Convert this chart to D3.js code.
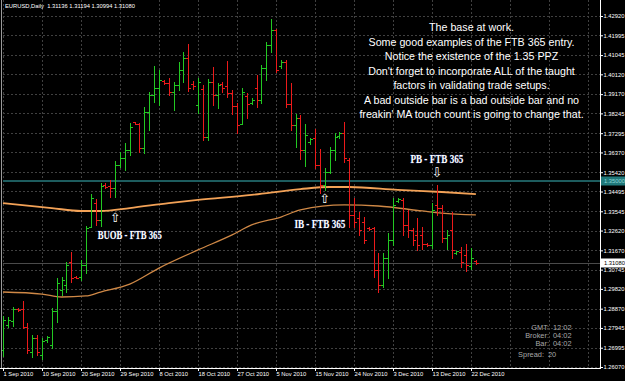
<!DOCTYPE html>
<html>
<head>
<meta charset="utf-8">
<script src="https://cdn.jsdelivr.net/npm/d3@7"></script>
<style>
body { margin: 0; background: #000; overflow: hidden; }
svg { display: block; }
</style>
</head>
<body>
<div id="chart"></div>
<script>
// daily bars, broker has sunday bars
var dates = [
 "2010-09-01","2010-09-02","2010-09-03","2010-09-05","2010-09-06","2010-09-07","2010-09-08","2010-09-09","2010-09-10","2010-09-12",
 "2010-09-13","2010-09-14","2010-09-15","2010-09-16","2010-09-17","2010-09-19","2010-09-20","2010-09-21","2010-09-22","2010-09-23",
 "2010-09-24","2010-09-26","2010-09-27","2010-09-28","2010-09-29","2010-09-30","2010-10-01","2010-10-03","2010-10-04","2010-10-05",
 "2010-10-06","2010-10-07","2010-10-08","2010-10-10","2010-10-11","2010-10-12","2010-10-13","2010-10-14","2010-10-15","2010-10-17",
 "2010-10-18","2010-10-19","2010-10-20","2010-10-21","2010-10-22","2010-10-24","2010-10-25","2010-10-26","2010-10-27","2010-10-28",
 "2010-10-29","2010-10-31","2010-11-01","2010-11-02","2010-11-03","2010-11-04","2010-11-05","2010-11-07","2010-11-08","2010-11-09",
 "2010-11-10","2010-11-11","2010-11-12","2010-11-14","2010-11-15","2010-11-16","2010-11-17","2010-11-18","2010-11-19","2010-11-21",
 "2010-11-22","2010-11-23","2010-11-24","2010-11-25","2010-11-26","2010-11-28","2010-11-29","2010-11-30","2010-12-01","2010-12-02",
 "2010-12-03","2010-12-05","2010-12-06","2010-12-07","2010-12-08","2010-12-09","2010-12-10","2010-12-12","2010-12-13","2010-12-14",
 "2010-12-15","2010-12-16","2010-12-17","2010-12-19","2010-12-20","2010-12-21","2010-12-22","2010-12-23"
];

var opens = [
 1.2689,1.2809,1.2828,1.2885,1.2885,1.2799,1.2679,1.2746,1.2665,1.2737,
 1.2713,1.2876,1.2977,1.3001,1.3111,1.3039,1.3039,1.3097,1.3279,1.3394,
 1.3313,1.3481,1.3476,1.3466,1.3577,1.3610,1.3649,1.3783,1.3773,1.3658,
 1.3831,1.3913,1.3946,1.3980,1.3970,1.3927,1.3961,1.4033,1.4090,1.3965,
 1.3865,1.3941,1.3711,1.3975,1.3913,1.3965,1.3956,1.3922,1.3860,1.3773,
 1.3908,1.3874,1.3946,1.3889,1.4042,1.4153,1.4225,1.4052,1.4071,1.3869,
 1.3769,1.3802,1.3649,1.3687,1.3706,1.3577,1.3481,1.3543,1.3649,1.3716,
 1.3730,1.3601,1.3337,1.3322,1.3303,1.3274,1.3274,1.3073,1.3001,1.3130,
 1.3217,1.3404,1.3409,1.3289,1.3265,1.3241,1.3241,1.3197,1.3193,1.3385,
 1.3370,1.3226,1.3265,1.3154,1.3159,1.3145,1.3092,1.31136
];
var highs = [
 1.2852,1.2847,1.2895,1.2890,1.2924,1.2818,1.2761,1.2761,1.2746,1.2756,
 1.2890,1.3034,1.3039,1.3111,1.3159,1.3044,1.3121,1.3284,1.3437,1.3413,
 1.3490,1.3490,1.3505,1.3596,1.3639,1.3682,1.3778,1.3783,1.3778,1.3855,
 1.3927,1.4052,1.4033,1.3985,1.3994,1.3975,1.4071,1.4119,1.4157,1.3980,
 1.3994,1.3961,1.3989,1.4047,1.3970,1.3975,1.4076,1.3937,1.3874,1.3946,
 1.3922,1.3898,1.4009,1.4057,1.4167,1.4277,1.4229,1.4081,1.4081,1.3970,
 1.3821,1.3817,1.3773,1.3706,1.3749,1.3653,1.3562,1.3663,1.3730,1.3735,
 1.3783,1.3610,1.3418,1.3351,1.3327,1.3279,1.3279,1.3154,1.3154,1.3250,
 1.3418,1.3418,1.3418,1.3361,1.3274,1.3322,1.3279,1.3202,1.3394,1.3481,
 1.3385,1.3265,1.3351,1.3164,1.3183,1.3197,1.3178,1.31194
];
var lows = [
 1.2660,1.2799,1.2804,1.2876,1.2794,1.2674,1.2655,1.2665,1.2645,1.2727,
 1.2698,1.2823,1.2953,1.2967,1.3015,1.3034,1.3025,1.3058,1.3279,1.3289,
 1.3284,1.3466,1.3423,1.3423,1.3567,1.3553,1.3625,1.3773,1.3639,1.3634,
 1.3745,1.3879,1.3865,1.3965,1.3913,1.3841,1.3937,1.3975,1.3932,1.3941,
 1.3826,1.3697,1.3697,1.3865,1.3850,1.3927,1.3903,1.3821,1.3730,1.3773,
 1.3802,1.3869,1.3855,1.3874,1.3985,1.4119,1.4023,1.4042,1.3855,1.3745,
 1.3663,1.3605,1.3572,1.3677,1.3562,1.3442,1.3457,1.3538,1.3601,1.3706,
 1.3591,1.3279,1.3279,1.3241,1.3202,1.3265,1.3039,1.2967,1.2991,1.3034,
 1.3193,1.3399,1.3241,1.3231,1.3193,1.3169,1.3173,1.3188,1.3178,1.3337,
 1.3207,1.3173,1.3130,1.3149,1.3087,1.3068,1.3077,1.30994
];
var closes = [
 1.2833,1.2833,1.2885,1.2881,1.2799,1.2689,1.2746,1.2679,1.2732,1.2751,
 1.2876,1.3010,1.3025,1.3097,1.3034,1.3036,1.3097,1.3274,1.3418,1.3313,
 1.3476,1.3471,1.3466,1.3577,1.3610,1.3649,1.3759,1.3773,1.3658,1.3831,
 1.3913,1.3946,1.3985,1.3970,1.3927,1.3961,1.4033,1.4090,1.3946,1.3956,
 1.3975,1.3711,1.3975,1.3913,1.3961,1.3946,1.3922,1.3860,1.3769,1.3927,
 1.3869,1.3889,1.3889,1.4042,1.4153,1.4225,1.4033,1.4071,1.3869,1.3769,
 1.3802,1.3649,1.3721,1.3701,1.3577,1.3481,1.3543,1.3649,1.3711,1.3730,
 1.3610,1.3337,1.3303,1.3265,1.3217,1.3269,1.3073,1.3001,1.3130,1.3217,
 1.3385,1.3413,1.3289,1.3265,1.3217,1.3193,1.3197,1.3193,1.3361,1.3370,
 1.3226,1.3241,1.3169,1.3164,1.3111,1.3097,1.3130,1.31080
];

// moving averages
var maSlowDates  = ["2010-09-01","2010-09-13","2010-09-20","2010-09-24","2010-10-01","2010-10-11","2010-10-18","2010-10-31","2010-11-11","2010-11-18","2010-11-23","2010-12-05","2010-12-15","2010-12-23"];
var maSlowValues = [1.3394,1.3370,1.3356,1.3356,1.3370,1.3394,1.3409,1.3433,1.3461,1.3471,1.3471,1.3457,1.3447,1.3437];
var maFastDates  = ["2010-09-01","2010-09-10","2010-09-15","2010-09-21","2010-09-24","2010-10-01","2010-10-08","2010-10-18","2010-10-26","2010-10-31","2010-11-07","2010-11-11","2010-11-22","2010-11-30","2010-12-10","2010-12-15","2010-12-23"];
var maFastValues = [1.2967,1.2957,1.2943,1.2948,1.2967,1.3005,1.3082,1.3169,1.3241,1.3289,1.3327,1.3361,1.3385,1.3380,1.3356,1.3346,1.3337];

var priceTicks = [1.42920,1.41995,1.41045,1.40120,1.39170,1.38245,1.37295,1.36370,1.35420,1.34495,
                  1.33545,1.32620,1.31670,1.30745,1.29820,1.28870,1.27945,1.26995,1.26070];
var dateTicks = ["2010-09-01","2010-09-10","2010-09-20","2010-09-29","2010-10-08","2010-10-18","2010-10-27",
                 "2010-11-05","2010-11-15","2010-11-24","2010-12-03","2010-12-13","2010-12-22"];

var levelLine = 1.35000;
var headerText = "EURUSD,Daily  1.31136 1.31194 1.30994 1.31080";

var noteLines = [
 "The base at work.",
 "Some good examples of the FTB 365 entry.",
 "Notice the existence of the 1.35 PPZ",
 "Don't forget to incorporate ALL of the taught",
 "factors in validating trade setups.",
 "A bad outside bar is a bad outside bar and no",
 "freakin' MA touch count is going to change that."
];

var setupNames  = ["BUOB - FTB 365", "IB - FTB 365", "PB - FTB 365"];
var setupDates  = ["2010-10-01", "2010-11-16", "2010-12-14"];
var setupPrices = [1.3245, 1.3298, 1.3610];
var arrowDates  = ["2010-09-28", "2010-11-17", "2010-12-14"];
var arrowPrices = [1.3327, 1.3418, 1.3543];
var arrowDirs   = ["up", "up", "down"];

var infoLabels = ["GMT:", "Broker:", "Bar:", "Spread:"];
var infoValues = ["12:02", "04:02", "04:02", "20"];

//////////////////////////////////////////////////////////////
var width = 625, height = 381;
var plotRight = 600, plotBottom = 368;

var svg = d3.select("#chart").append("svg")
    .attr("width", width)
    .attr("height", height)
    .style("background", "#000");

var idx = new Map(dates.map(function (d, i) { return [d, i]; }));
var parse = d3.timeParse("%Y-%m-%d");
var fmt = d3.timeFormat("%-d %b %Y");

var x = d3.scaleLinear().domain([0, dates.length - 1]).range([3, 3 + (dates.length - 1) * 4.875]);
var y = d3.scaleLinear().domain([1.26070, 1.42920]).range([367, 16]);
function px(i) { return Math.round(x(i)) + 0.5; }

//grid
var grid = svg.append("g").attr("stroke", "#404040").attr("stroke-dasharray", "2,2").attr("stroke-width", 1);
grid.selectAll(".hg").data(priceTicks).enter().append("line")
    .attr("x1", 3).attr("x2", plotRight)
    .attr("y1", function (d) { return Math.round(y(d)) + 0.5; })
    .attr("y2", function (d) { return Math.round(y(d)) + 0.5; });
var gridIdx = dateTicks.map(function (d) { return idx.get(d); });
var last = gridIdx[gridIdx.length - 1];
gridIdx = gridIdx.concat([last + 8, last + 16, last + 24]);
grid.selectAll(".vg").data(gridIdx).enter().append("line")
    .attr("y1", 0).attr("y2", plotBottom)
    .attr("x1", function (d) { return px(d); })
    .attr("x2", function (d) { return px(d); });

//level line and current price line
svg.append("line")
    .attr("x1", 3).attr("x2", plotRight)
    .attr("y1", y(levelLine)).attr("y2", y(levelLine))
    .attr("stroke", "#1d5c5e").attr("stroke-width", 2);
svg.append("line")
    .attr("x1", 3).attr("x2", plotRight)
    .attr("y1", Math.round(y(closes[closes.length - 1])) + 0.5)
    .attr("y2", Math.round(y(closes[closes.length - 1])) + 0.5)
    .attr("stroke", "#4a4a4a").attr("stroke-width", 1);

//moving averages
var maLine = d3.line()
    .x(function (d) { return x(idx.get(d[0])); })
    .y(function (d) { return y(d[1]); })
    .curve(d3.curveMonotoneX);
svg.append("path")
    .datum(d3.zip(maSlowDates, maSlowValues))
    .attr("d", maLine)
    .attr("fill", "none").attr("stroke", "#f3a257").attr("stroke-width", 1.8);
svg.append("path")
    .datum(d3.zip(maFastDates, maFastValues))
    .attr("d", maLine)
    .attr("fill", "none").attr("stroke", "#cf8846").attr("stroke-width", 1.3);

//ohlc bars
var bars = svg.append("g").selectAll(".bar").data(dates).enter().append("g")
    .attr("stroke", function (d, i) { return closes[i] >= opens[i] ? "#22c822" : "#ec1a1a"; })
    .attr("stroke-width", 1);
bars.append("line")
    .attr("x1", function (d, i) { return px(i); }).attr("x2", function (d, i) { return px(i); })
    .attr("y1", function (d, i) { return Math.round(y(highs[i])); })
    .attr("y2", function (d, i) { return Math.round(y(lows[i])) + 1; });
bars.append("line")
    .attr("x1", function (d, i) { return px(i) - 2.5; }).attr("x2", function (d, i) { return px(i); })
    .attr("y1", function (d, i) { return Math.round(y(opens[i])) + 0.5; })
    .attr("y2", function (d, i) { return Math.round(y(opens[i])) + 0.5; });
bars.append("line")
    .attr("x1", function (d, i) { return px(i); }).attr("x2", function (d, i) { return px(i) + 2.5; })
    .attr("y1", function (d, i) { return Math.round(y(closes[i])) + 0.5; })
    .attr("y2", function (d, i) { return Math.round(y(closes[i])) + 0.5; });

//axes
var yAxis = d3.axisRight(y).tickValues(priceTicks).tickFormat(d3.format(".5f")).tickSize(3);
var gy = svg.append("g").attr("transform", "translate(" + plotRight + ",0)").call(yAxis);
gy.select(".domain").attr("stroke", "#fff").attr("d", "M0.5,0V" + plotBottom);
gy.selectAll(".tick line").attr("stroke", "#fff");
gy.selectAll(".tick text").attr("fill", "#fff").attr("x", 3.5)
    .style("font", "5.8px 'Liberation Sans', Arial, sans-serif");

var xAxis = d3.axisBottom(x).tickValues(dateTicks.map(function (d) { return idx.get(d); }))
    .tickFormat(function (i) { return fmt(parse(dates[i])); }).tickSize(3);
var gx = svg.append("g").attr("transform", "translate(0," + plotBottom + ")").call(xAxis);
gx.select(".domain").attr("stroke", "#fff").attr("d", "M0,0.5H" + (plotRight + 1));
gx.selectAll(".tick line").attr("stroke", "#fff");
gx.selectAll(".tick text").attr("fill", "#fff").attr("text-anchor", "start").attr("x", 0).attr("y", 4)
    .style("font", "5.8px 'Liberation Sans', Arial, sans-serif");

//left border
svg.append("line").attr("x1", 1.5).attr("x2", 1.5).attr("y1", 0).attr("y2", plotBottom)
    .attr("stroke", "#9a9a9a");

//price boxes on the axis
function priceBox(p, fill, color) {
  var g = svg.append("g").attr("transform", "translate(" + (plotRight + 1) + "," + Math.round(y(p)) + ")");
  g.append("rect").attr("x", 0).attr("y", -4.5).attr("width", 24).attr("height", 9).attr("fill", fill);
  g.append("text").attr("x", 3).attr("y", 2.2).attr("fill", color)
    .style("font", "5.8px 'Liberation Sans', Arial, sans-serif")
    .text(d3.format(".5f")(p));
}
priceBox(levelLine, "#20787a", "#8fd6d6");
priceBox(closes[closes.length - 1], "#ffffff", "#000000");

//header
svg.append("text").attr("x", 5).attr("y", 8).attr("fill", "#fff")
    .style("font", "5.8px 'Liberation Sans', Arial, sans-serif")
    .attr("xml:space", "preserve")
    .text(headerText);

//notes
svg.append("g").selectAll("text").data(noteLines).enter().append("text")
    .attr("x", 471.5)
    .attr("y", function (d, i) { return 31 + i * 14.5; })
    .attr("text-anchor", "middle")
    .attr("fill", "#fff")
    .style("font", "10.7px 'Liberation Sans', Arial, sans-serif")
    .text(function (d) { return d; });

//setup labels and arrows
var labelW = [64, 51, 53];
svg.append("g").selectAll("text").data(setupNames).enter().append("text")
    .attr("x", function (d, i) { return x(idx.get(setupDates[i])) - labelW[i] / 2; })
    .attr("y", function (d, i) { return y(setupPrices[i]) + 4.5; })
    .attr("textLength", function (d, i) { return labelW[i]; })
    .attr("lengthAdjust", "spacingAndGlyphs")
    .attr("fill", "#fff")
    .attr("stroke", "#3a4690").attr("stroke-width", 0.6).attr("paint-order", "stroke")
    .style("font", "bold 13.5px 'Liberation Serif', 'Times New Roman', serif")
    .text(function (d) { return d; });

svg.append("g").selectAll("text").data(arrowDirs).enter().append("text")
    .attr("x", function (d, i) { return x(idx.get(arrowDates[i])); })
    .attr("y", function (d, i) { return y(arrowPrices[i]) + 5; })
    .attr("text-anchor", "middle")
    .attr("fill", "#fff")
    .style("font", "13px 'DejaVu Sans', sans-serif")
    .text(function (d) { return d == "up" ? "\u21e7" : "\u21e9"; });

//info box
var info = svg.append("g").style("font", "7.4px 'Liberation Sans', Arial, sans-serif").attr("fill", "#a9a9a9");
info.selectAll(".il").data(infoLabels).enter().append("text")
    .attr("x", function (d, i) { return i < 3 ? 549 : 544; })
    .attr("y", function (d, i) { return [330, 338, 346, 357][i]; })
    .attr("text-anchor", "end")
    .text(function (d) { return d; });
info.selectAll(".iv").data(infoValues).enter().append("text")
    .attr("x", function (d, i) { return i < 3 ? 553 : 548; })
    .attr("y", function (d, i) { return [330, 338, 346, 357][i]; })
    .text(function (d) { return d; });
</script>
</body>
</html>
